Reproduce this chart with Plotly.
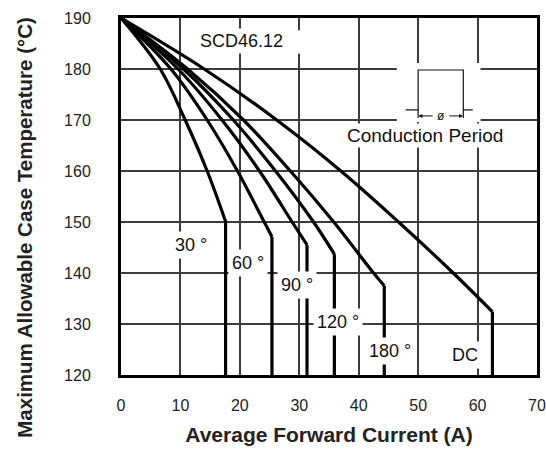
import plotly.graph_objects as go

# ---------------- data ----------------
labels = ["30 °", "60 °", "90 °", "120 °", "180 °", "DC"]

cur_30 = [0, 6.6, 10.8, 14.5, 17.6]
tmp_30 = [190, 180, 170, 160, 150.1]

cur_60 = [0, 8.4, 14.5, 19.6, 24.1, 25.4]
tmp_60 = [190, 180, 170, 160, 150, 147.1]

cur_90 = [0, 9.6, 17.0, 23.3, 28.8, 31.3]
tmp_90 = [190, 180, 170, 160, 150, 145.5]

cur_120 = [0, 10.5, 18.9, 26.0, 32.4, 35.9]
tmp_120 = [190, 180, 170, 160, 150, 143.7]

cur_180 = [0, 11.2, 20.6, 28.5, 35.8, 42.5, 44.3]
tmp_180 = [190, 180, 170, 160, 150, 140, 137.5]

cur_dc = [0, 14.0, 26.2, 37.0, 46.7, 55.9, 62.5]
tmp_dc = [190, 180, 170, 160, 150, 140, 132.4]

# label anchor positions (data units)
label_x = [11.8, 21.3, 29.6, 36.5, 45.3, 57.8]
label_y = [145.5, 142.0, 137.6, 130.4, 124.7, 123.9]

x_ticks = [0, 10, 20, 30, 40, 50, 60, 70]
y_ticks = [120, 130, 140, 150, 160, 170, 180, 190]

x_title = "Average Forward Current (A)"
y_title = "Maximum Allowable Case Temperature (°C)"
part_no = "SCD46.12"
diagram_text = "Conduction Period"

# ---------------- figure ----------------
FONT = "Liberation Sans, Arial, Helvetica, sans-serif"
fig = go.Figure()

series = [(cur_30, tmp_30), (cur_60, tmp_60), (cur_90, tmp_90),
          (cur_120, tmp_120), (cur_180, tmp_180), (cur_dc, tmp_dc)]
y_min = y_ticks[0]
for cx, cy in series:
    fig.add_trace(go.Scatter(x=cx, y=cy, mode="lines",
                             line=dict(color="black", width=3.2, shape="spline", smoothing=1.0),
                             showlegend=False, hoverinfo="skip"))
    fig.add_trace(go.Scatter(x=[cx[-1], cx[-1]], y=[cy[-1], y_min], mode="lines",
                             line=dict(color="black", width=3.2),
                             showlegend=False, hoverinfo="skip"))

annotations = []
for t, lx, ly in zip(labels, label_x, label_y):
    annotations.append(dict(x=lx, y=ly, text=t, showarrow=False,
                            font=dict(family=FONT, size=18, color="#111"),
                            bgcolor="white", borderpad=3))
annotations.append(dict(x=20.2, y=185.5, text=part_no, showarrow=False,
                        font=dict(family=FONT, size=18, color="#111"),
                        bgcolor="white", borderpad=2))
annotations.append(dict(x=51.1, y=166.9, text=diagram_text, showarrow=False,
                        font=dict(family=FONT, size=19, color="#111"),
                        bgcolor="white", borderpad=1))
# conduction-period arrows
annotations.append(dict(x=50.05, y=170.8, ax=52.7, ay=170.8, axref="x", ayref="y",
                        text="", showarrow=True, arrowhead=2, arrowsize=0.8,
                        arrowwidth=1, arrowcolor="#111"))
annotations.append(dict(x=57.55, y=170.8, ax=55.0, ay=170.8, axref="x", ayref="y",
                        text="", showarrow=True, arrowhead=2, arrowsize=0.8,
                        arrowwidth=1, arrowcolor="#111"))
annotations.append(dict(x=53.8, y=170.8, text="ø", showarrow=False,
                        font=dict(family=FONT, size=12, color="#111")))
# y-axis title (placed as in the reference, slightly below plot centre)
annotations.append(dict(x=-0.231, y=0.415, xref="paper", yref="paper",
                        text="<b>" + y_title + "</b>", textangle=-90, showarrow=False,
                        xanchor="center", yanchor="middle",
                        font=dict(family=FONT, size=20.5, color="#222")))

shapes = [
    # small white gap on the x=30 grid line beside the part number
    dict(type="rect", x0=29.5, x1=30.5, y0=183.0, y1=187.6, xref="x", yref="y",
         fillcolor="white", line=dict(width=0), layer="above"),
    # white area behind conduction diagram
    dict(type="rect", x0=46.4, x1=60.5, y0=169.6, y1=181.2, xref="x", yref="y",
         fillcolor="white", line=dict(width=0), layer="above"),
    # pulse
    dict(type="path", path="M 47.9,172.0 L 50.0,172.0 L 50.0,179.8 L 57.6,179.8 L 57.6,172.0 L 59.2,172.0",
         xref="x", yref="y", line=dict(color="#111", width=1.2), layer="above"),
    dict(type="line", x0=50.0, x1=50.0, y0=172.0, y1=170.4, xref="x", yref="y",
         line=dict(color="#111", width=1.2), layer="above"),
    dict(type="line", x0=57.6, x1=57.6, y0=172.0, y1=170.4, xref="x", yref="y",
         line=dict(color="#111", width=1.2), layer="above"),
]

axis_common = dict(showgrid=True, gridcolor="#3c3c3c", gridwidth=1.8, automargin=False,
                   zeroline=False, showline=True, linecolor="black", linewidth=3,
                   mirror=True, ticks="", tickfont=dict(family=FONT, size=16, color="#222"))

fig.update_layout(
    width=546, height=452,
    margin=dict(l=121, r=9, t=18, b=77),
    paper_bgcolor="white", plot_bgcolor="white",
    xaxis=dict(range=[x_ticks[0], x_ticks[-1]], tickvals=x_ticks, ticklabelstandoff=14,
               title=dict(text="<b>" + x_title + "</b>", standoff=15,
                          font=dict(family=FONT, size=21, color="#222")),
               **axis_common),
    yaxis=dict(range=[y_ticks[0], y_ticks[-1]], tickvals=y_ticks, ticklabelstandoff=24,
               **axis_common),
    annotations=annotations,
    shapes=shapes,
)

fig.write_html("out.html", config={"displayModeBar": False},
               post_script="document.body.style.margin='0px';document.body.style.overflow='hidden';")
